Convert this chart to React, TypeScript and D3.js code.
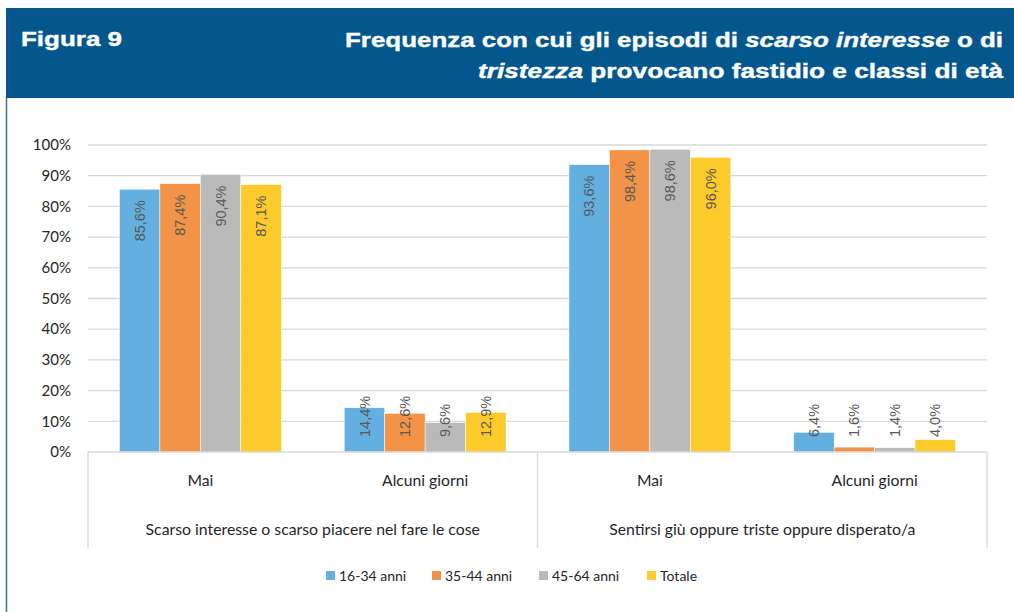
import React from "react";
import * as d3 from "d3";

const categories = ["Mai", "Alcuni giorni", "Mai", "Alcuni giorni"];
const groups = [
  "Scarso interesse o scarso piacere nel fare le cose",
  "Sentirsi giù oppure triste oppure disperato/a",
];
const seriesNames = ["16-34 anni", "35-44 anni", "45-64 anni", "Totale"];
const s1634 = [85.6, 14.4, 93.6, 6.4];
const s3544 = [87.4, 12.6, 98.4, 1.6];
const s4564 = [90.4, 9.6, 98.6, 1.4];
const sTot = [87.1, 12.9, 96.0, 4.0];
const yTicks = [0, 10, 20, 30, 40, 50, 60, 70, 80, 90, 100];
const colors = ["#62afe0", "#f39347", "#bababa", "#fccb2b"];

const W = 1014;
const H = 612;
const left = 88;
const right = 987;
const top = 145;
const bottom = 452;

export default function App() {
  const seriesValues = [s1634, s3544, s4564, sTot];
  const x = d3
    .scaleBand<number>()
    .domain(categories.map((_, i) => i))
    .range([left, right])
    .paddingInner(0.28)
    .paddingOuter(0.14);
  const xs = d3
    .scaleBand<number>()
    .domain(seriesNames.map((_, i) => i))
    .range([0, x.bandwidth()])
    .padding(0);
  const y = d3.scaleLinear().domain([0, 100]).range([bottom, top]);
  const fmt = (v: number) => v.toFixed(1).replace(".", ",") + "%";
  const labelLen = 41;
  const step = x.step();
  const groupBounds = [left, left + 2 * step, right];

  return (
    <svg
      width={W}
      height={H}
      style={{ position: "absolute", left: 0, top: 0, background: "#fff" }}
    >
      {/* header */}
      <rect x={6} y={8} width={W - 6} height={90} fill="#03578d" />
      <line x1={6.5} y1={98} x2={6.5} y2={H} stroke="#3f6f9d" strokeWidth={1.5} />
      <text
        x={21}
        y={46}
        fill="#fff"
        fontFamily="Liberation Sans, Arial, sans-serif"
        fontWeight="bold"
        fontSize={21}
        stroke="#fff"
        strokeWidth={0.4}
        textLength={101}
        lengthAdjust="spacingAndGlyphs"
      >
        Figura 9
      </text>
      <text
        x={1003}
        y={47}
        fill="#fff"
        textAnchor="end"
        fontFamily="Liberation Sans, Arial, sans-serif"
        fontWeight="bold"
        fontSize={21}
        stroke="#fff"
        strokeWidth={0.4}
        textLength={658}
        lengthAdjust="spacingAndGlyphs"
      >
        Frequenza con cui gli episodi di <tspan fontStyle="italic">scarso</tspan>{" "}
        <tspan fontStyle="italic">interesse</tspan> o di
      </text>
      <text
        x={1003}
        y={78}
        fill="#fff"
        textAnchor="end"
        fontFamily="Liberation Sans, Arial, sans-serif"
        fontWeight="bold"
        fontSize={21}
        stroke="#fff"
        strokeWidth={0.4}
        textLength={525}
        lengthAdjust="spacingAndGlyphs"
      >
        <tspan fontStyle="italic">tristezza</tspan> provocano fastidio e classi di età
      </text>

      {/* gridlines */}
      {yTicks.map((t) => (
        <g key={t}>
          {t > 0 && (
            <line
              x1={left}
              x2={right}
              y1={y(t)}
              y2={y(t)}
              stroke="#d9d9d9"
              strokeWidth={1.3}
            />
          )}
          <text
            x={71}
            y={y(t)}
            dy="0.35em"
            textAnchor="end"
            fontFamily="Lato, 'Open Sans', sans-serif"
            fontSize={15}
            fill="#262626"
          >
            {t}%
          </text>
        </g>
      ))}

      {/* bars */}
      {seriesValues.map((vals, si) =>
        vals.map((v, ci) => (
          <rect
            key={`b${si}-${ci}`}
            x={(x(ci) as number) + (xs(si) as number)}
            y={y(v)}
            width={xs.bandwidth()}
            height={y(0) - y(v)}
            fill={colors[si]}
            stroke="#fff"
            strokeWidth={0.5}
          />
        ))
      )}

      {/* data labels */}
      {seriesValues.map((vals, si) =>
        vals.map((v, ci) => {
          const cx = (x(ci) as number) + (xs(si) as number) + xs.bandwidth() / 2;
          const yt = y(v) + 11;
          const small = yt + labelLen > y(0) - 15;
          const py = small ? y(0) - 15 : yt;
          return (
            <text
              key={`l${si}-${ci}`}
              transform={`translate(${cx},${py}) rotate(-90)`}
              textAnchor={small ? "start" : "end"}
              dy="0.35em"
              fontFamily="Liberation Sans, Arial, sans-serif"
              fontSize={14.5}
              fill="#595959"
            >
              {fmt(v)}
            </text>
          );
        })
      )}

      {/* category axis */}
      <line x1={left} x2={right} y1={bottom} y2={bottom} stroke="#d9d9d9" strokeWidth={1.3} />
      {groupBounds.map((gx, i) => (
        <line
          key={`gb${i}`}
          x1={gx}
          x2={gx}
          y1={bottom}
          y2={548}
          stroke="#d9d9d9"
          strokeWidth={1.3}
        />
      ))}
      {categories.map((c, i) => (
        <text
          key={`c${i}`}
          x={(x(i) as number) + x.bandwidth() / 2}
          y={486}
          textAnchor="middle"
          fontFamily="Lato, 'Open Sans', sans-serif"
          fontSize={15.7}
          fill="#262626"
        >
          {c}
        </text>
      ))}
      {groups.map((g, i) => (
        <text
          key={`g${i}`}
          x={(groupBounds[i] + groupBounds[i + 1]) / 2}
          y={535}
          textAnchor="middle"
          fontFamily="Lato, 'Open Sans', sans-serif"
          fontSize={15.8}
          fill="#262626"
        >
          {g}
        </text>
      ))}

      {/* legend */}
      {seriesNames.map((n, i) => {
        const lx = [326, 432, 539, 647][i];
        return (
          <g key={`lg${i}`}>
            <rect x={lx} y={571} width={9} height={9} fill={colors[i]} />
            <text
              x={lx + 13}
              y={581}
              fontFamily="Lato, 'Open Sans', sans-serif"
              fontSize={14}
              fill="#262626"
            >
              {n}
            </text>
          </g>
        );
      })}
    </svg>
  );
}
